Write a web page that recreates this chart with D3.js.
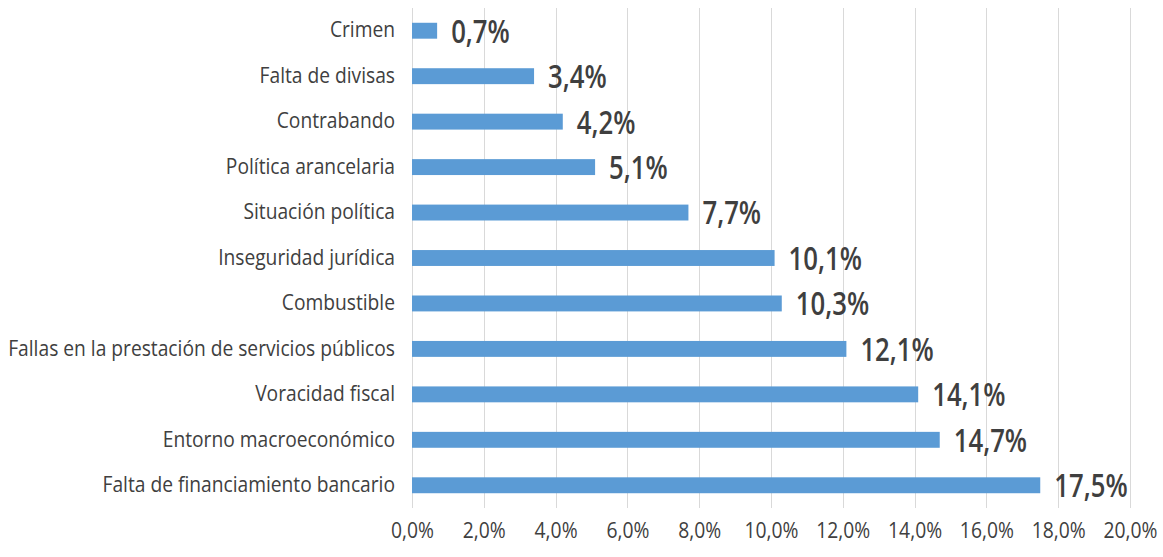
<!DOCTYPE html>
<html>
<head>
<meta charset="utf-8">
<script src="https://cdn.jsdelivr.net/npm/d3@7"></script>
<style>
  body { margin: 0; background: #fff; }
  svg text { font-family: "Open Sans", "Noto Sans", sans-serif; }
</style>
</head>
<body>
<svg id="chart" width="1163" height="557"></svg>
<script>
// data, top to bottom
var categories = [
  "Crimen",
  "Falta de divisas",
  "Contrabando",
  "Política arancelaria",
  "Situación política",
  "Inseguridad jurídica",
  "Combustible",
  "Fallas en la prestación de servicios públicos",
  "Voracidad fiscal",
  "Entorno macroeconómico",
  "Falta de financiamiento bancario"
];
var values = [0.7, 3.4, 4.2, 5.1, 7.7, 10.1, 10.3, 12.1, 14.1, 14.7, 17.5];
var xTicks = [0, 2, 4, 6, 8, 10, 12, 14, 16, 18, 20];

var svg = d3.select("#chart"),
    margin = { top: 8, left: 412, right: 33, bottom: 49 },
    width = +svg.attr("width") - margin.left - margin.right,
    height = +svg.attr("height") - margin.top - margin.bottom,
    g = svg.append("g").attr("transform", "translate(" + margin.left + "," + margin.top + ")");

var fmt = function (v) { return v.toFixed(1).replace(".", ",") + "%"; };

// the source font is tall and narrow, squeeze the text horizontally
var catSx = 0.915, valSx = 0.78, tickSx = 0.92;

var x = d3.scaleLinear().domain([0, 20]).range([0, width]);
var y = d3.scaleBand().domain(categories).range([0, height])
    .paddingInner(0.65).paddingOuter(0.325);

// gridlines
g.append("g")
  .selectAll("line")
  .data(xTicks)
  .enter().append("line")
  .attr("x1", function (d) { return Math.round(x(d)) + 0.5; })
  .attr("x2", function (d) { return Math.round(x(d)) + 0.5; })
  .attr("y1", 0)
  .attr("y2", height)
  .attr("stroke", "#d9d9d9")
  .attr("stroke-width", 1);

// bars
g.append("g")
  .selectAll("rect")
  .data(values)
  .enter().append("rect")
  .attr("x", 0)
  .attr("y", function (d, i) { return y(categories[i]); })
  .attr("width", function (d) { return x(d); })
  .attr("height", y.bandwidth())
  .attr("fill", "#5b9bd5");

// value labels
g.append("g")
  .selectAll("text")
  .data(values)
  .enter().append("text")
  .attr("transform", function (d, i) {
    return "translate(" + (x(d) + 14) + "," + (y(categories[i]) + y.bandwidth() / 2) + ") scale(" + valSx + ",1)";
  })
  .attr("dy", "0.36em")
  .attr("font-size", 33)
  .attr("font-weight", 600)
  .attr("fill", "#3f3f3f")
  .text(fmt);

// category axis
var yAxis = g.append("g")
  .call(d3.axisLeft(y).tickSize(0).tickPadding(0));
yAxis.select(".domain").remove();
yAxis.selectAll("text")
  .attr("x", 0)
  .attr("transform", "translate(-17,0) scale(" + catSx + ",1)")
  .attr("font-size", 21)
  .attr("fill", "#404040");

// value axis
var xAxis = g.append("g")
  .attr("transform", "translate(0," + height + ")")
  .call(d3.axisBottom(x).tickValues(xTicks).tickSize(0).tickPadding(15).tickFormat(fmt));
xAxis.select(".domain").remove();
xAxis.selectAll("text")
  .attr("transform", "scale(" + tickSx + ",1)")
  .attr("font-size", 21)
  .attr("fill", "#404040");
</script>
</body>
</html>
